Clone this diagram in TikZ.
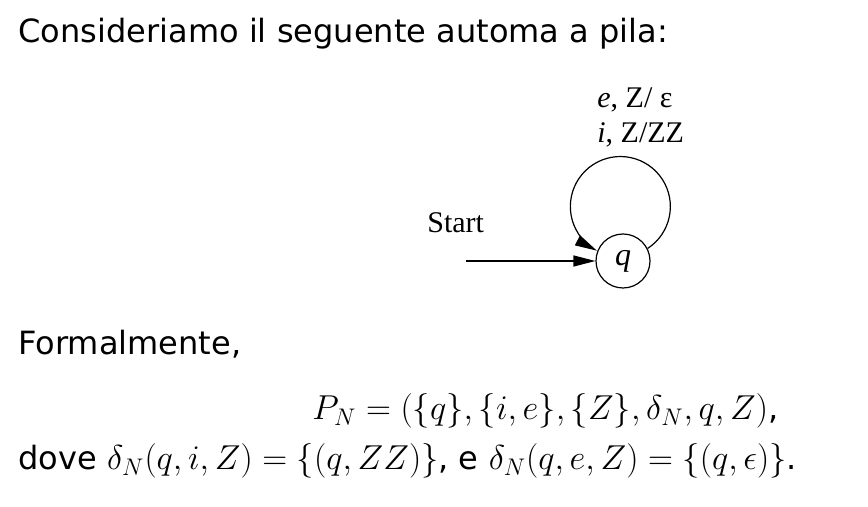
\documentclass[tikz,border=0pt]{standalone}
\usepackage{fontspec}
\usetikzlibrary{arrows.meta,positioning}
\setsansfont{DejaVu Sans}[Scale=0.89]
\newfontfamily\figfont{Liberation Serif}
\tikzset{
  state/.style={draw,circle,minimum size=27pt,inner sep=0pt,line width=0.6pt,
                font=\figfont\fontsize{16}{18}\selectfont\itshape},
  arrow/.style={-{Triangle[length=11pt,width=5.5pt]},line width=0.6pt},
  slide/.style={anchor=base west,inner sep=0pt,font=\sffamily\fontsize{18}{22}\selectfont},
  lbl/.style={inner sep=0pt,font=\figfont\fontsize{15}{17.7}\selectfont}
}
\begin{document}
\begin{tikzpicture}[x=0.5pt,y=-0.5pt]
\useasboundingbox (0,0) rectangle (868,507);
\node[slide] (intro) at (18,43) {Consideriamo il seguente automa a pila:};
% automa a pila
\node[state] (q) at (623,261) {q};
\coordinate (init) at (466,261);
\node[lbl,anchor=base west] (startlbl) at (427,233) {Start};
\draw[arrow] (init) -- (q);
\draw[arrow] (q.27) arc[start angle=57,end angle=-242,radius=50];
\node[lbl,anchor=north west,align=left] (looplbl) at (597,87) {\textit{e}, Z/ ε\\\textit{i}, Z/ZZ};
% definizione formale
\node[slide] (formal) at (18,355) {Formalmente,};
\node[slide] (tuple) at (312,420) {$P_N=(\{q\},\{i,e\},\{Z\},\delta_N,q,Z)$,};
\node[slide] (delta) at (18,470) {dove $\delta_N(q,i,Z)=\{(q,ZZ)\}$, e $\delta_N(q,e,Z)=\{(q,\epsilon)\}$.};
\end{tikzpicture}
\end{document}
